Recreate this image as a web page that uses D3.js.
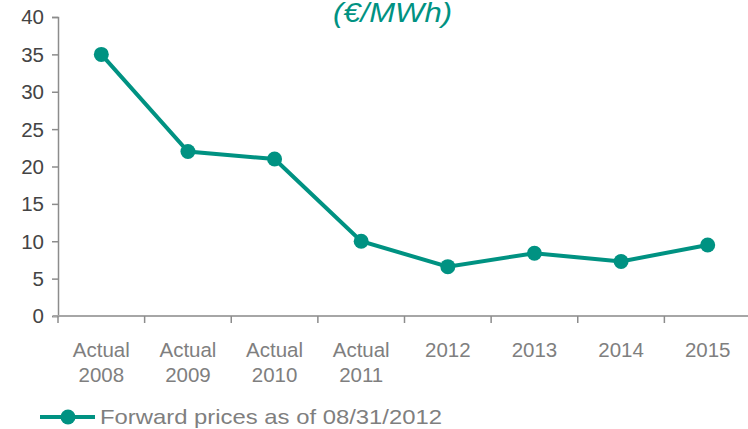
<!DOCTYPE html>
<html>
<head>
<meta charset="utf-8">
<script src="https://cdn.jsdelivr.net/npm/d3@7"></script>
<style>
  body { margin: 0; background: #fff; }
  text { font-family: "Liberation Sans", Arial, sans-serif; }
</style>
</head>
<body>
<svg id="chart" width="748" height="429"></svg>
<script>
// Chart data
const categories = [["Actual", "2008"], ["Actual", "2009"], ["Actual", "2010"], ["Actual", "2011"],
  ["2012"], ["2013"], ["2014"], ["2015"]];
const prices = [35, 22, 21, 10, 6.6, 8.4, 7.3, 9.5];
const yTicks = [0, 5, 10, 15, 20, 25, 30, 35, 40];
const seriesName = "Forward prices as of 08/31/2012";
const unitTitle = "(€/MWh)";

const teal = "#009282";
const svg = d3.select("#chart");

const margin = { left: 58, top: 17, right: -3, bottom: 113 };
const width = 748 - margin.left - margin.right;
const height = 429 - margin.top - margin.bottom;

const g = svg.append("g")
  .attr("transform", `translate(${margin.left}, ${margin.top})`);

// Scales
const x = d3.scaleBand()
  .domain(d3.range(categories.length))
  .range([0, width]);

const y = d3.scaleLinear()
  .domain([0, 40])
  .range([height, 0]);

// Y axis
const yAxis = g.append("g")
  .call(d3.axisLeft(y).tickValues(yTicks).tickSize(6).tickPadding(8));
yAxis.select(".domain").attr("stroke", "#8c8c8c").attr("stroke-width", 1.5);
yAxis.selectAll(".tick line").attr("stroke", "#8c8c8c").attr("stroke-width", 1.5);
yAxis.selectAll(".tick text")
  .attr("fill", "#444")
  .attr("dy", "0.34em")
  .style("font-size", "20.5px");

// X axis line and ticks at band edges
const xAxisG = g.append("g")
  .attr("transform", `translate(0, ${height})`);
xAxisG.append("line")
  .attr("x1", -5).attr("x2", width)
  .attr("stroke", "#a6a6a6").attr("stroke-width", 2);
xAxisG.selectAll("line.tick")
  .data(d3.range(categories.length))
  .enter()
  .append("line")
  .attr("class", "tick")
  .attr("x1", d => x(d)).attr("x2", d => x(d))
  .attr("y1", 0).attr("y2", 7)
  .attr("stroke", "#8c8c8c").attr("stroke-width", 1.5);

// Category labels
const labels = xAxisG.selectAll("text.cat")
  .data(categories)
  .enter()
  .append("text")
  .attr("class", "cat")
  .attr("text-anchor", "middle")
  .attr("fill", "#7f7f7f")
  .style("font-size", "20.5px")
  .attr("transform", (d, i) => `translate(${x(i) + x.bandwidth() / 2}, 41)`);
labels.selectAll("tspan")
  .data(d => d)
  .enter()
  .append("tspan")
  .attr("x", 0)
  .attr("dy", (d, i) => i === 0 ? 0 : 25)
  .text(d => d);

// Line
const line = d3.line()
  .x((d, i) => x(i) + x.bandwidth() / 2)
  .y(d => y(d));

g.append("path")
  .datum(prices)
  .attr("fill", "none")
  .attr("stroke", teal)
  .attr("stroke-width", 4)
  .attr("d", line);

g.selectAll("circle.pt")
  .data(prices)
  .enter()
  .append("circle")
  .attr("class", "pt")
  .attr("cx", (d, i) => x(i) + x.bandwidth() / 2)
  .attr("cy", d => y(d))
  .attr("r", 7.5)
  .attr("fill", teal);

// Title (cut off at the top)
svg.append("text")
  .attr("x", 333)
  .attr("y", 21.5)
  .attr("fill", teal)
  .attr("textLength", 119)
  .attr("lengthAdjust", "spacingAndGlyphs")
  .style("font-size", "28px")
  .style("font-style", "italic")
  .text(unitTitle);

// Legend
const legend = svg.append("g").attr("transform", "translate(40, 424)");
legend.append("line")
  .attr("x1", 0).attr("x2", 55)
  .attr("y1", -7).attr("y2", -7)
  .attr("stroke", teal).attr("stroke-width", 4);
legend.append("circle")
  .attr("cx", 28).attr("cy", -7).attr("r", 7.5)
  .attr("fill", teal);
legend.append("text")
  .attr("x", 60)
  .attr("y", 0)
  .attr("fill", "#7f7f7f")
  .attr("textLength", 342)
  .attr("lengthAdjust", "spacingAndGlyphs")
  .style("font-size", "21px")
  .text(seriesName);
</script>
</body>
</html>
